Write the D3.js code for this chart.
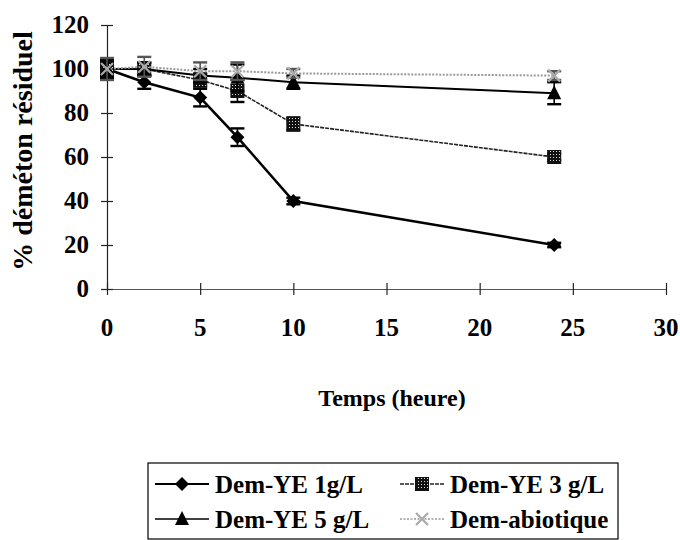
<!DOCTYPE html>
<html>
<head>
<meta charset="utf-8">
<script src="https://cdn.jsdelivr.net/npm/d3@7"></script>
<style>
  html, body { margin: 0; padding: 0; background: #fff; }
  svg { display: block; }
  text { font-family: "Liberation Serif", "Times New Roman", serif; font-weight: bold; fill: #000; }
</style>
</head>
<body>
<svg id="chart" width="680" height="540"></svg>
<script>
const times = [0, 2, 5, 7, 10, 24];
const ye1 = [100, 94, 87, 69, 40, 20];
const ye1Err = [4, 3, 4, 4, 1.5, 1];
const ye3 = [100, 100, 95, 90, 75, 60];
const ye3Err = [3, 3, 3, 5, 3, 1.5];
const ye5 = [100, 100, 97, 96, 94, 89];
const ye5Err = [3, 3, 3, 6, 3, 5];
const abio = [100, 101, 99, 99, 98, 97];
const abioErr = [5, 4.5, 4, 4, 2, 2];
const xTicks = [0, 5, 10, 15, 20, 25, 30];
const yTicks = [0, 20, 40, 60, 80, 100, 120];
const seriesNames = ["Dem-YE 1g/L", "Dem-YE 3 g/L", "Dem-YE 5 g/L", "Dem-abiotique"];
const xTitle = "Temps (heure)";
const yTitle = "% déméton résiduel";

const svg = d3.select("#chart");
const x = d3.scaleLinear().domain([0, 30]).range([107, 666]);
const y = d3.scaleLinear().domain([0, 120]).range([289, 25]);

const defs = svg.append("defs");
const pat = defs.append("pattern").attr("id", "chk").attr("width", 3).attr("height", 3)
  .attr("patternUnits", "userSpaceOnUse");
pat.append("rect").attr("width", 3).attr("height", 3).attr("fill", "#111");
pat.append("rect").attr("x", 1).attr("y", 1).attr("width", 1).attr("height", 1).attr("fill", "#ddd");

// axes
const xAxis = d3.axisBottom(x).tickValues(xTicks).tickSize(0).tickFormat("");
const gx = svg.append("g").attr("transform", `translate(0,${y(0)})`).call(xAxis);
gx.select(".domain").attr("stroke", "#555").attr("stroke-width", 1.2);
gx.selectAll(".tick").append("line").attr("y1", -6).attr("y2", 6).attr("stroke", "#222").attr("stroke-width", 1.2);

const yAxis = d3.axisLeft(y).tickValues(yTicks).tickSize(0).tickFormat("");
const gy = svg.append("g").attr("transform", `translate(${x(0)},0)`).call(yAxis);
gy.select(".domain").attr("stroke", "#222").attr("stroke-width", 1.2);
gy.selectAll(".tick").append("line").attr("x1", -6).attr("x2", 6).attr("stroke", "#222").attr("stroke-width", 1.2);

svg.append("g").selectAll("text").data(xTicks).join("text")
  .attr("x", d => x(d)).attr("y", 336).attr("text-anchor", "middle")
  .attr("font-size", 25).text(d => d);
svg.append("g").selectAll("text").data(yTicks).join("text")
  .attr("x", 89).attr("y", d => y(d) + 8).attr("text-anchor", "end")
  .attr("font-size", 25).text(d => d);

svg.append("text").attr("x", 392).attr("y", 406).attr("text-anchor", "middle")
  .attr("font-size", 24).text(xTitle);
svg.append("text").attr("transform", `translate(32,151) rotate(-90)`).attr("text-anchor", "middle")
  .attr("font-size", 28).text(yTitle);

const series = [
  { vals: ye1, err: ye1Err, stroke: "#000", width: 2.6, dash: null, marker: "diamond" },
  { vals: ye3, err: ye3Err, stroke: "#222", width: 1.6, dash: "4,1", marker: "square" },
  { vals: ye5, err: ye5Err, stroke: "#000", width: 2.0, dash: null, marker: "triangle" },
  { vals: abio, err: abioErr, stroke: "#999", width: 2.0, dash: "2,1.5", marker: "x" }
];

function drawMarker(g, type, cx, cy) {
  if (type === "diamond") {
    g.append("path").attr("d", `M${cx},${cy - 7}L${cx + 7},${cy}L${cx},${cy + 7}L${cx - 7},${cy}Z`).attr("fill", "#000");
  } else if (type === "square") {
    g.append("rect").attr("x", cx - 6.5).attr("y", cy - 6.5).attr("width", 13).attr("height", 13)
      .attr("fill", "url(#chk)").attr("stroke", "#111").attr("stroke-width", 1);
  } else if (type === "triangle") {
    g.append("path").attr("d", `M${cx},${cy - 8}L${cx + 7},${cy + 6}L${cx - 7},${cy + 6}Z`).attr("fill", "#000");
  } else if (type === "x") {
    g.append("path").attr("d", `M${cx - 6},${cy - 6}L${cx + 6},${cy + 6}M${cx + 6},${cy - 6}L${cx - 6},${cy + 6}`)
      .attr("stroke", "#aaa").attr("stroke-width", 2.2).attr("fill", "none");
  }
}

const line = d3.line().x(d => x(d[0])).y(d => y(d[1]));

series.forEach(s => {
  const g = svg.append("g");
  const pts = times.map((t, i) => [t, s.vals[i]]);
  pts.forEach((p, i) => {
    const e = s.err[i];
    const eb = g.append("g").attr("stroke", s.marker === "x" ? "#555" : "#000").attr("stroke-width", 1.6);
    eb.append("line").attr("x1", x(p[0])).attr("x2", x(p[0])).attr("y1", y(p[1] - e)).attr("y2", y(p[1] + e));
    eb.append("line").attr("x1", x(p[0]) - 7).attr("x2", x(p[0]) + 7).attr("y1", y(p[1] + e)).attr("y2", y(p[1] + e)).attr("stroke-width", 2.4);
    eb.append("line").attr("x1", x(p[0]) - 7).attr("x2", x(p[0]) + 7).attr("y1", y(p[1] - e)).attr("y2", y(p[1] - e)).attr("stroke-width", 2.4);
  });
  g.append("path").datum(pts).attr("d", line).attr("fill", "none")
    .attr("stroke", s.stroke).attr("stroke-width", s.width).attr("stroke-dasharray", s.dash);
  pts.forEach(p => drawMarker(g, s.marker, x(p[0]), y(p[1])));
});

// legend
const lg = svg.append("g");
lg.append("rect").attr("x", 148).attr("y", 463).attr("width", 470).attr("height", 76)
  .attr("fill", "none").attr("stroke", "#000").attr("stroke-width", 1.2);
const legPos = [[155, 484], [400, 484], [155, 519], [400, 519]];
series.forEach((s, i) => {
  const [lx, ly] = legPos[i];
  const w = i % 2 === 0 ? 54 : 44;
  lg.append("line").attr("x1", lx).attr("x2", lx + w).attr("y1", ly).attr("y2", ly)
    .attr("stroke", s.stroke).attr("stroke-width", s.width > 2 ? 2 : 1.5).attr("stroke-dasharray", s.dash);
  drawMarker(lg, s.marker, lx + w / 2, ly);
  lg.append("text").attr("x", lx + w + 6).attr("y", ly + 9).attr("font-size", 25).text(seriesNames[i]);
});
</script>
</body>
</html>
